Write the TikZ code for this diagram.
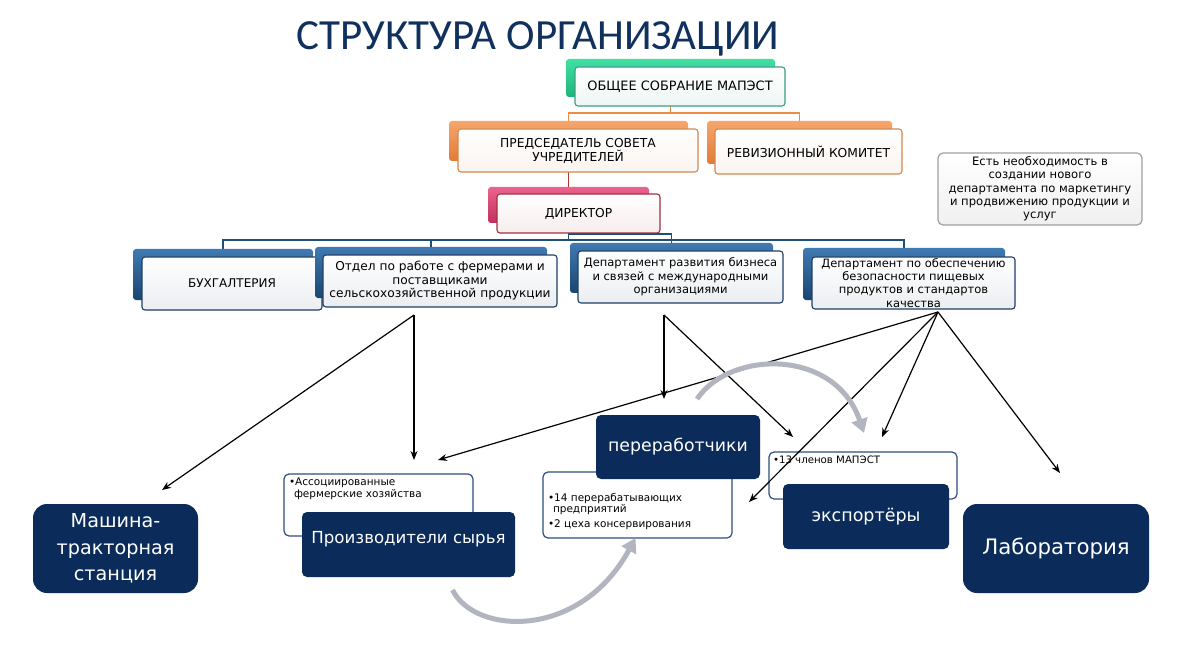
\documentclass[tikz,border=0pt]{standalone}
\usepackage{fontspec}
\setmainfont{DejaVu Sans}
\newfontfamily\titlefont{Carlito}
\usetikzlibrary{arrows.meta,calc}
\pgfdeclarelayer{bg}
\pgfsetlayers{bg,main}
\definecolor{navy}{HTML}{0B2C5B}
\definecolor{titleblue}{HTML}{10305E}
\definecolor{grnT}{HTML}{3FE0A2}
\definecolor{grnD}{HTML}{1DB47A}
\definecolor{grnB}{HTML}{3B9C86}
\definecolor{orgT}{HTML}{F6A66C}
\definecolor{orgD}{HTML}{E27B34}
\definecolor{orgB}{HTML}{D2874F}
\definecolor{orgL}{HTML}{F08B45}
\definecolor{pnkT}{HTML}{EA6490}
\definecolor{pnkD}{HTML}{C22E5A}
\definecolor{pnkB}{HTML}{A0303D}
\definecolor{redL}{HTML}{B8322E}
\definecolor{bluT}{HTML}{3F7AB2}
\definecolor{bluD}{HTML}{1A456F}
\definecolor{bluB}{HTML}{1E3E66}
\definecolor{bluL}{HTML}{1F4E79}
\definecolor{wbord}{HTML}{2F4F80}
\definecolor{arcgray}{HTML}{B2B5BF}
\newcommand{\bitem}[1]{\par\hangindent=5pt\hangafter=1\noindent•#1\par}
\begin{document}
\begin{tikzpicture}[x=1pt,y=-1pt,
  bx/.style={rectangle,rounded corners=3pt,inner sep=0pt,outer sep=0pt,anchor=north west,align=center},
  sz/.style 2 args={minimum width=#1pt,minimum height=#2pt},
  backbox/.style 2 args={bx,top color=#1,bottom color=#2},
  frontbox/.style={bx,draw=#1,line width=1.1pt,top color=white,bottom color=#1!9!white},
  capfont/.style={font=\fontsize{12.3}{14}\selectfont},
  deptfont/.style={font=\fontsize{#1}{13.5}\selectfont},
  notebox/.style={bx,rounded corners=5pt,draw=gray!75,line width=1.2pt,top color=white,bottom color=gray!12,font=\fontsize{11.6}{13.3}\selectfont},
  navybox/.style={rectangle,rounded corners=#1,fill=navy,text=white,inner sep=0pt,outer sep=0pt,anchor=north west,align=center},
  wbox/.style={rectangle,rounded corners=5pt,draw=wbord,line width=1.2pt,fill=white,inner sep=0pt,outer sep=0pt,anchor=north west},
  orgline/.style={draw=orgL,line width=1.3pt},
  redline/.style={draw=redL,line width=1.3pt},
  blueline/.style={draw=bluL,line width=1.3pt},
  blk/.style={draw=black,line width=1.2pt,-{Stealth[length=9pt,width=7pt]}},
  grayarc/.style={draw=arcgray,line width=5pt,-{Triangle[length=14pt,width=16pt]}}
]
\useasboundingbox (0,0) rectangle (1200,647);
\begin{pgfonlayer}{bg}
\fill[white] (0,0) rectangle (1200,647);
\end{pgfonlayer}

% title
\node[font=\titlefont\fontsize{43}{50}\selectfont,text=titleblue,anchor=base,inner sep=0pt] (title) at (538,50) {СТРУКТУРА ОРГАНИЗАЦИИ};

% general assembly
\node[backbox={grnT}{grnD},sz={209}{38}] (gaB) at (566,59) {};
\node[frontbox=grnB,sz={210}{39},font=\fontsize{12.9}{14}\selectfont] (ga) at (575,67) {ОБЩЕЕ СОБРАНИЕ МАПЭСТ};

% chairman and revision committee
\node[backbox={orgT}{orgD},sz={239}{40}] (chB) at (449,121) {};
\node[frontbox=orgB,sz={240}{43},capfont] (ch) at (458,129) {ПРЕДСЕДАТЕЛЬ СОВЕТА\\УЧРЕДИТЕЛЕЙ};
\node[backbox={orgT}{orgD},sz={185}{43}] (rkB) at (707,121) {};
\node[frontbox=orgB,sz={187}{45},capfont] (rk) at (715,129) {РЕВИЗИОННЫЙ КОМИТЕТ};

% director
\node[backbox={pnkT}{pnkD},sz={161}{36}] (dirB) at (488,187) {};
\node[frontbox=pnkB,sz={163}{39},capfont] (dir) at (497,194) {ДИРЕКТОР};

% departments
\node[backbox={bluT}{bluD},sz={180}{51}] (bukhB) at (133,249) {};
\node[frontbox=bluB,sz={180}{53},font=\fontsize{12}{14}\selectfont] (bukh) at (142,257) {БУХГАЛТЕРИЯ};
\node[backbox={bluT}{bluD},sz={232}{51}] (otdB) at (315,247) {};
\node[frontbox=bluB,sz={234}{52},deptfont=12.2] (otd) at (323,255) {Отдел по работе с фермерами и\\поставщиками\\сельскохозяйственной продукции};
\node[backbox={bluT}{bluD},sz={203}{50}] (devB) at (570,243) {};
\node[frontbox=bluB,sz={205}{52},deptfont=11.5] (dev) at (578,251) {Департамент развития бизнеса\\и связей с международными\\организациями};
\node[backbox={bluT}{bluD},sz={202}{52}] (safB) at (803,248) {};
\node[frontbox=bluB,sz={203}{52},font=\fontsize{11.5}{13.2}\selectfont] (saf) at (812,257) {Департамент по обеспечению\\безопасности пищевых\\продуктов и стандартов\\качества};

% note
\node[notebox,sz={204}{72}] (note) at (938,153) {Есть необходимость в\\создании нового\\департамента по маркетингу\\и продвижению продукции и\\услуг};

% connectors (behind boxes)
\begin{pgfonlayer}{bg}
\draw[orgline] (gaB.south) -- ++(0,16) -| (chB.north);
\draw[orgline] (gaB.south) -- ++(0,16) -| (rkB.north);
\draw[redline] (chB.south) -- (dirB.north);
\draw[blueline] (dirB.south) -- ++(0,17) -| (bukhB.north);
\draw[blueline] (dirB.south) -- ++(0,17) -| (otdB.north);
\draw[blueline] (dirB.south) -- ++(0,11) -| (devB.north);
\draw[blueline] (dirB.south) -- ++(0,17) -| (safB.north);
\end{pgfonlayer}

% bottom boxes
\node[navybox=14pt,sz={165}{89},font=\fontsize{19.2}{26.5}\selectfont] (mts) at (33,504) {Машина-\\тракторная\\станция};

\node[wbox] (psW) at (284,474) {\parbox[c][62pt][t]{189pt}{\fontsize{10.5}{12}\selectfont\leftskip=5pt\rightskip=0pt plus 1fil\vspace*{4pt}\bitem{Ассоциированные\newline фермерские хозяйства}}};
\node[navybox=5pt,sz={213}{65},font=\fontsize{16.6}{20}\selectfont] (ps) at (302,512) {\raisebox{1.5pt}[0pt][0pt]{Производители сырья}};

\node[wbox] (prW) at (543,472) {\parbox[c][66pt][t]{189pt}{\fontsize{10.5}{11.5}\selectfont\leftskip=5pt\rightskip=0pt plus 1fil\parskip=3pt\vspace*{18pt}\bitem{14 перерабатывающих\newline предприятий}\bitem{2 цеха консервирования}}};
\node[navybox=5pt,sz={164}{64},font=\fontsize{17.3}{20}\selectfont] (pr) at (596,415) {переработчики};

\node[wbox] (exW) at (769,452) {\parbox[c][47pt][t]{188pt}{\fontsize{10.2}{12}\selectfont\leftskip=4pt\rightskip=0pt plus 1fil\vspace*{4pt}\bitem{13 членов МАПЭСТ}}};
\node[navybox=5pt,sz={166}{65},font=\fontsize{17.5}{20}\selectfont] (ex) at (783,484) {экспортёры};

\node[navybox=14pt,sz={186}{89},font=\fontsize{21.3}{24}\selectfont] (lab) at (963,504) {Лаборатория};

% arrow points
\coordinate (oA) at (414,315);
\coordinate (tMTS) at (162,490);
\coordinate (tPS) at (414,460);
\coordinate (dA) at (664,315);
\coordinate (tPR) at (664,399);
\coordinate (tEX1) at (793,437);
\coordinate (qA) at (938,312);
\coordinate (tPS2) at (438,460);
\coordinate (tEX2) at (882,437);
\coordinate (tPR2) at (749,502);
\coordinate (tLAB) at (1060,473);

\draw[blk] (oA) -- (tMTS);
\draw[blk] (oA) -- (tPS);
\draw[blk] (dA) -- (tPR);
\draw[blk] (dA) -- (tEX1);
\draw[blk] (qA) -- (tPS2);
\draw[blk] (qA) -- (tEX2);
\draw[blk] (qA) -- (tPR2);
\draw[blk] (qA) -- (tLAB);

% gray cycle arrows
\draw[grayarc] ($(ps.south)+(44,13)$) .. controls (475,635) and (580,640) .. ($(prW.south)+(-2,0)$);
\draw[grayarc] ($(pr.south)+(19,-80)$) .. controls (730,350) and (835,348) .. (864,433);
\end{tikzpicture}
\end{document}
